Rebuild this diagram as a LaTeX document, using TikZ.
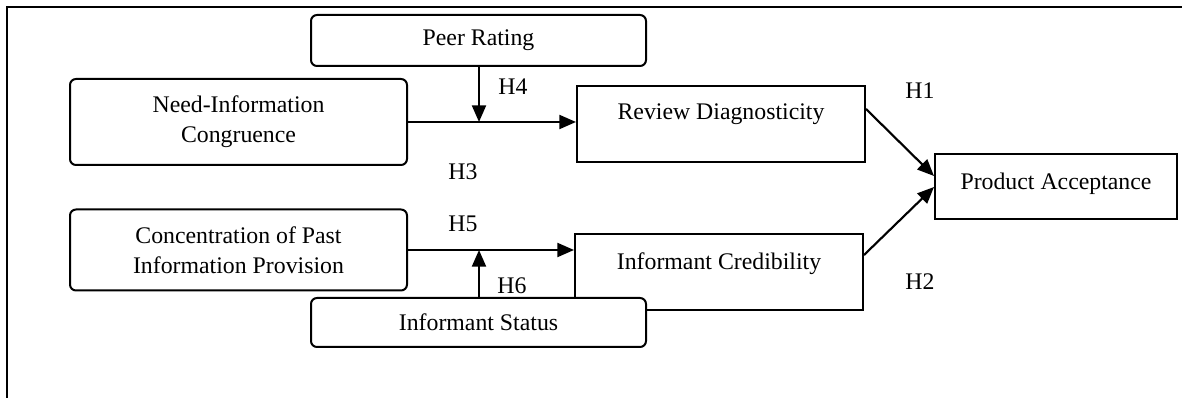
\documentclass[tikz,border=0pt]{standalone}
\usepackage{fontspec}
\setmainfont{Liberation Serif}
\usetikzlibrary{arrows.meta,calc}

\tikzset{
  txt/.style={font=\fontsize{17.85}{22.5}\selectfont},
  box/.style={txt, draw, line width=1.5pt, fill=white, align=center, inner sep=0pt},
  roundbox/.style={box, rounded corners=4.5pt},
  % rectangle whose single line of text sits in its upper part
  topbox/.style n args={2}{box, text height=#1, text depth=#2},
  arr/.style={line width=1.6pt, -{Triangle[length=12.5pt,width=10.5pt]}},
  hyp/.style={txt, inner sep=0pt},
  frameline/.style={line width=1.8pt}
}

\begin{document}
\begin{tikzpicture}[x=0.75pt, y=-0.75pt]
\useasboundingbox (0,0) rectangle (1182,398);

% open frame: top and left edges only
\draw[frameline] (1182,7) -- (7,7) -- (7,398);

% constructs
\node[roundbox, minimum width=251.25pt, minimum height=38.25pt] (pr) at (478.5,40.5) {Peer Rating};
\node[roundbox, minimum width=252.75pt, minimum height=64.5pt] (nic) at (238.5,122) {Need-Information\\Congruence};
\node[topbox={25.5pt}{31.5pt}, minimum width=216pt] (rd) at (721,124) {Review Diagnosticity};
\node[topbox={27pt}{21.75pt}, minimum width=181.5pt] (pa) at (1056,186.5) {Product Acceptance};
\node[roundbox, minimum width=252.75pt, minimum height=60.75pt] (conc) at (238.5,250) {Concentration of Past\\Information Provision};
\node[topbox={27pt}{30pt}, minimum width=216pt] (ic) at (719,272) {Informant Credibility};
\node[roundbox, minimum width=251.25pt, minimum height=36.75pt] (is) at (478.5,322.5) {Informant Status};

% moderation junctions
\coordinate (m1) at (479,122);
\coordinate (m2) at (479,250);

% paths
\draw[arr] (nic.east) -- (nic.east -| rd.west);
\draw[arr] (m1 |- pr.south) -- (m1);
\draw[arr] (conc.east) -- (conc.east -| ic.west);
\draw[arr] (m2 |- is.north) -- (m2);
\draw[arr] ($(rd.north east)+(0,24)$) -- ($(pa.north west)+(0,23)$);
\draw[arr] ($(ic.north east)+(0,22)$) -- ($(pa.north west)+(0,34)$);

% hypothesis labels
\node[hyp] (h1) at (920,91) {H1};
\node[hyp] (h2) at (920,282) {H2};
\node[hyp] (h3) at (463,172) {H3};
\node[hyp] (h4) at (513,87) {H4};
\node[hyp] (h5) at (463,224) {H5};
\node[hyp] (h6) at (512,286) {H6};
\end{tikzpicture}
\end{document}
